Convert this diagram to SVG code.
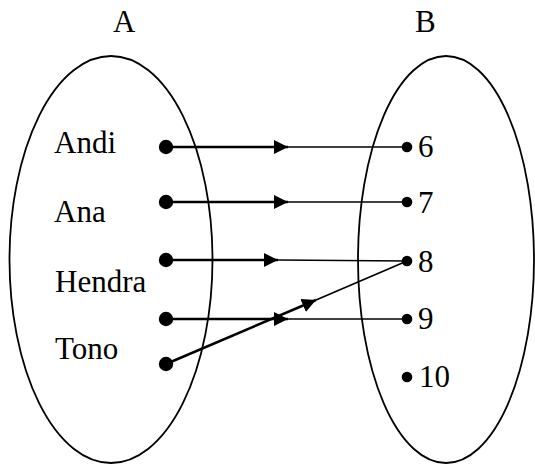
<svg xmlns="http://www.w3.org/2000/svg" width="535" height="464" viewBox="0 0 535 464">
<style>
.set{fill:none;stroke:#000;stroke-width:1.8}
.lbl{font-family:"Liberation Serif","Times New Roman",serif;font-size:31px;fill:#000}
.thick{stroke:#000;stroke-width:2.6;fill:none}
.thin{stroke:#000;stroke-width:1.4;fill:none}
.dotA{fill:#000}
.dotB{fill:#000}
</style>
<defs>
<marker id="arr" markerUnits="userSpaceOnUse" markerWidth="14" markerHeight="14" refX="14" refY="7" orient="auto" viewBox="0 0 14 14">
<path d="M0,0 L14,7 L0,14 Z" fill="#000"/>
</marker>
</defs>
<rect width="535" height="464" fill="#fff"/>
<g id="setA">
<ellipse class="set" cx="111" cy="259.5" rx="101.5" ry="203.5"/>
<text class="lbl" x="113" y="32">A</text>
</g>
<g id="setB">
<ellipse class="set" cx="446" cy="259.5" rx="88" ry="203.5"/>
<text class="lbl" x="415" y="32">B</text>
</g>
<g id="node-andi"><text class="lbl" x="54" y="153">Andi</text><circle class="dotA" cx="166" cy="147" r="7.2"/></g>
<g id="node-ana"><text class="lbl" x="54" y="222">Ana</text><circle class="dotA" cx="166" cy="202" r="7.2"/></g>
<g id="node-hendra"><text class="lbl" x="55" y="292">Hendra</text><circle class="dotA" cx="166" cy="260" r="7.2"/></g>
<g id="node-blank"><circle class="dotA" cx="166" cy="319" r="7.2"/></g>
<g id="node-tono"><text class="lbl" x="55" y="359">Tono</text><circle class="dotA" cx="166" cy="364" r="7.2"/></g>
<g id="node-6"><circle class="dotB" cx="407" cy="147" r="5.3"/><text class="lbl" x="418" y="157">6</text></g>
<g id="node-7"><circle class="dotB" cx="407" cy="202" r="5.3"/><text class="lbl" x="418" y="213">7</text></g>
<g id="node-8"><circle class="dotB" cx="407" cy="261" r="5.3"/><text class="lbl" x="418" y="272">8</text></g>
<g id="node-9"><circle class="dotB" cx="407" cy="319" r="5.3"/><text class="lbl" x="418" y="329">9</text></g>
<g id="node-10"><circle class="dotB" cx="407" cy="377" r="5.3"/><text class="lbl" x="419" y="387">10</text></g>
<g id="connectors">
<line class="thick" x1="166" y1="147" x2="288" y2="147" marker-end="url(#arr)"/>
<line class="thin" x1="288" y1="147" x2="407" y2="147"/>
<line class="thick" x1="166" y1="202" x2="288" y2="202" marker-end="url(#arr)"/>
<line class="thin" x1="288" y1="202" x2="407" y2="202"/>
<line class="thick" x1="166" y1="260" x2="278" y2="260" marker-end="url(#arr)"/>
<line class="thin" x1="278" y1="260" x2="407" y2="261"/>
<line class="thick" x1="166" y1="319" x2="288" y2="319" marker-end="url(#arr)"/>
<line class="thin" x1="288" y1="319" x2="407" y2="319"/>
<line class="thick" x1="166" y1="364" x2="316" y2="300" marker-end="url(#arr)"/>
<line class="thin" style="stroke-width:1.7" x1="316" y1="300" x2="407" y2="261"/>
</g>
</svg>
